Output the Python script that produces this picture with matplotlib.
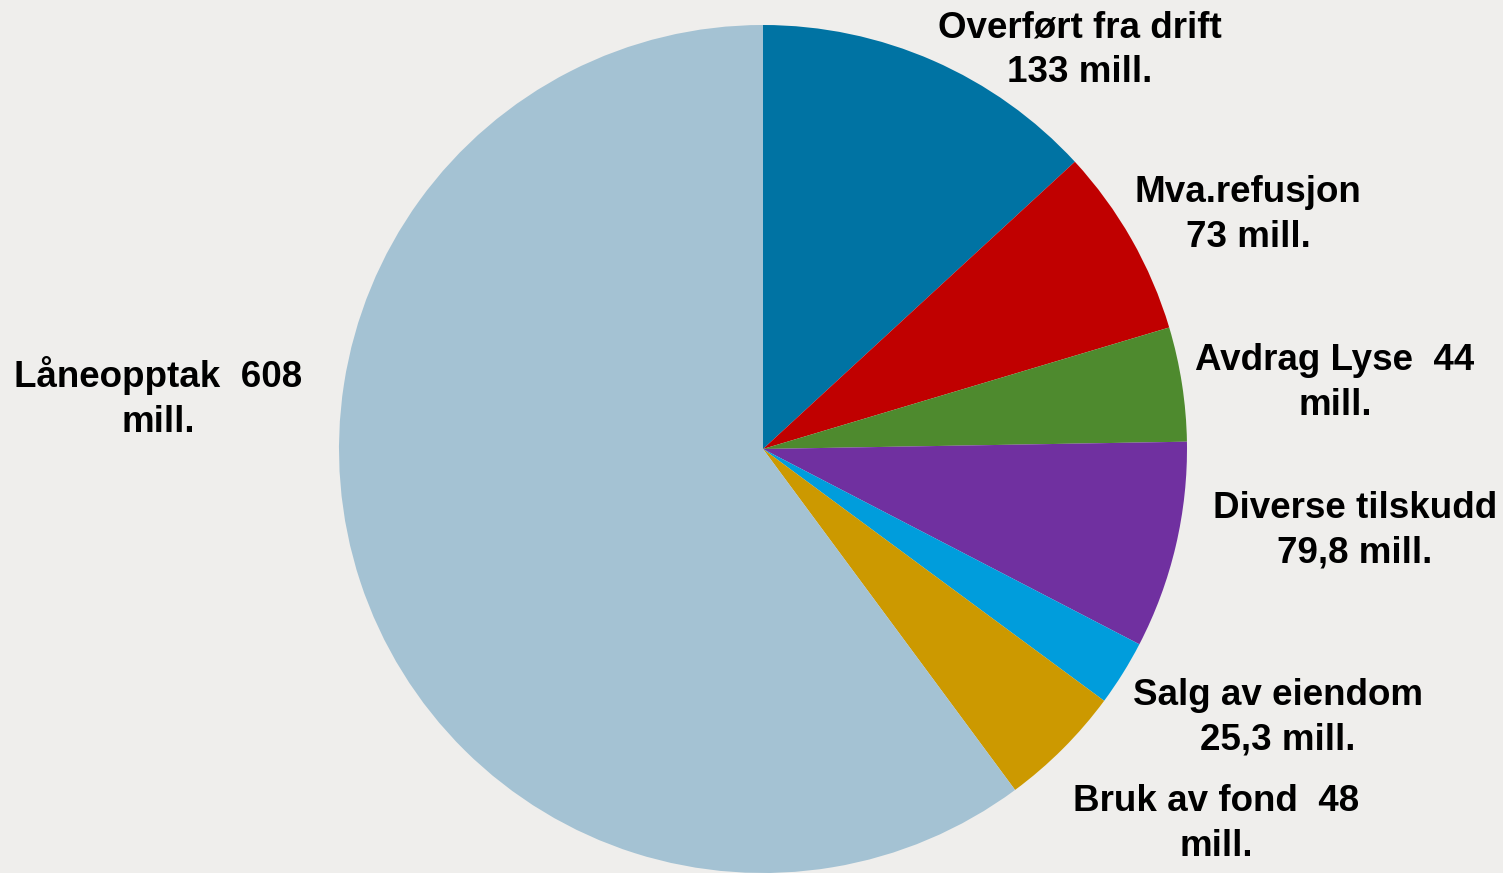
import matplotlib
matplotlib.use("Agg")
import matplotlib.pyplot as plt

# data
labels = ["Overført fra drift\n133 mill.", "Mva.refusjon\n73 mill.", "Avdrag Lyse  44\nmill.",
          "Diverse tilskudd\n79,8 mill.", "Salg av eiendom\n25,3 mill.", "Bruk av fond  48\nmill.",
          "Låneopptak  608\nmill."]
values = [133, 73, 44, 79.8, 25.3, 48, 608]
colors = ["#0073a3", "#c00000", "#4e8a2e", "#7030a0", "#009ddc", "#cc9900", "#a4c2d3"]

# label centres in pixels of the picture (x, y from top)
label_px = [(1080, 50), (1248, 215), (1335, 383), (1355, 531), (1278, 718), (1216, 824), (158, 398)]

bg = "#efeeec"
W, H = 1503, 873
cx, cy, r = 763, 449, 424

fig = plt.figure(figsize=(W / 100, H / 100), dpi=100, facecolor=bg)
ax = fig.add_axes([(cx - r) / W, (H - cy - r) / H, 2 * r / W, 2 * r / H])
ax.set_facecolor(bg)
ax.pie(values, colors=colors, startangle=90, counterclock=False, radius=1,
       wedgeprops=dict(linewidth=0))
ax.set_xlim(-1, 1)
ax.set_ylim(-1, 1)
ax.set_aspect("equal")
ax.axis("off")

for lab, (px, py) in zip(labels, label_px):
    ax.text((px - cx) / r, (cy - py) / r, lab, ha="center", va="center",
            fontsize=26.5, fontweight="bold", family="Liberation Sans",
            linespacing=1.35, color="black", clip_on=False)

fig.savefig("out.png", dpi=100, facecolor=bg)
